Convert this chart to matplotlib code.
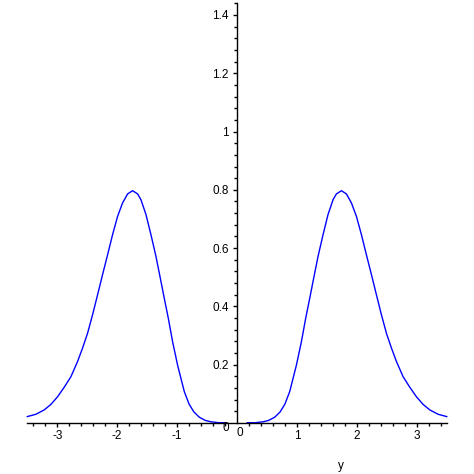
import matplotlib
matplotlib.use("Agg")
import matplotlib.pyplot as plt
from matplotlib.ticker import FixedLocator

# Right-hand branch
x_right = [0.173, 0.300, 0.435, 0.530, 0.630, 0.720, 0.800, 0.880, 0.992, 1.075,
           1.147, 1.214, 1.280, 1.353, 1.436, 1.519, 1.603, 1.659, 1.743, 1.826,
           1.910, 1.993, 2.077, 2.160, 2.244, 2.327, 2.411, 2.494, 2.578, 2.661,
           2.772, 2.883, 2.995, 3.105, 3.217, 3.356, 3.500]
y_right = [0.001, 0.001, 0.004, 0.009, 0.020, 0.038, 0.065, 0.108, 0.199, 0.279,
           0.360, 0.428, 0.497, 0.572, 0.646, 0.715, 0.766, 0.786, 0.797, 0.786,
           0.755, 0.709, 0.646, 0.577, 0.509, 0.440, 0.371, 0.308, 0.257, 0.211,
           0.159, 0.123, 0.090, 0.064, 0.045, 0.030, 0.022]
# Left-hand branch (mirror image in the picture)
x_left = [-3.500, -3.356, -3.217, -3.105, -2.995, -2.883, -2.772, -2.661, -2.578, -2.494,
          -2.411, -2.327, -2.244, -2.160, -2.077, -1.993, -1.910, -1.826, -1.743, -1.659,
          -1.603, -1.519, -1.436, -1.353, -1.280, -1.214, -1.147, -1.075, -0.992, -0.880,
          -0.800, -0.720, -0.630, -0.530, -0.435, -0.300, -0.190]
y_left = [0.022, 0.030, 0.045, 0.064, 0.090, 0.123, 0.159, 0.211, 0.257, 0.308,
          0.371, 0.440, 0.509, 0.577, 0.646, 0.709, 0.755, 0.786, 0.797, 0.786,
          0.766, 0.715, 0.646, 0.572, 0.497, 0.428, 0.360, 0.279, 0.199, 0.108,
          0.065, 0.038, 0.020, 0.009, 0.004, 0.001, 0.001]

x_major = [-3, -2, -1, 1, 2, 3]
x_labels = ["-3", "-2", "-1", "1", "2", "3"]
y_major = [0.2, 0.4, 0.6, 0.8, 1.0, 1.2, 1.4]
y_labels = ["0.2", "0.4", "0.6", "0.8", "1", "1.2", "1.4"]

plt.rcParams['font.family'] = ['Liberation Sans', 'DejaVu Sans']
W = 474
fig = plt.figure(figsize=(4.74, 4.74), dpi=100)
ax = fig.add_axes([27.3 / W, 51 / W, (446.7 - 27.3) / W, (423 - 3.3) / W])
ax.set_xlim(-3.5, 3.5)
ax.set_ylim(0, 1.44)

blue = (0, 0, 1)
ax.plot(x_right, y_right, color=blue, lw=1.0, clip_on=False)
ax.plot(x_left, y_left, color=blue, lw=1.0, clip_on=False)

for s in ['top', 'right']:
    ax.spines[s].set_visible(False)
ax.spines['left'].set_position(('data', 0))
ax.spines['bottom'].set_position(('data', 0))
for s in ['left', 'bottom']:
    ax.spines[s].set_linewidth(1.0)

ax.xaxis.set_major_locator(FixedLocator(x_major))
ax.set_xticklabels(x_labels)
ax.xaxis.set_minor_locator(FixedLocator([i * 0.2 for i in range(-17, 18) if i % 5 != 0]))
ax.yaxis.set_major_locator(FixedLocator(y_major))
ax.set_yticklabels(y_labels)
ax.yaxis.set_minor_locator(FixedLocator([i * 0.04 for i in range(1, 37) if i % 5 != 0]))

ax.tick_params(which='major', direction='out', length=3, width=1, labelsize=8.5, colors='black')
ax.tick_params(which='minor', direction='out', length=2, width=1)
ax.tick_params(axis='x', pad=2)
ax.tick_params(axis='y', pad=3)

fig.text(226 / W, 1 - 428 / W, "0", ha='center', va='center', fontsize=8.5)
fig.text(240 / W, 1 - 433.5 / W, "0", ha='center', va='center', fontsize=8.5)
fig.text(341 / W, 1 - 466 / W, "y", ha='center', va='center', fontsize=8.5)

fig.savefig("out.png", dpi=100)
